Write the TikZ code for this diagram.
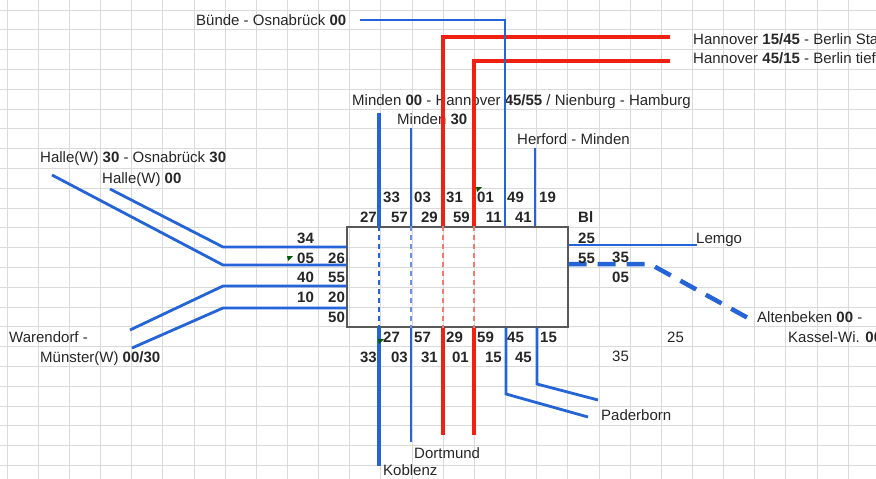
\documentclass[tikz,border=0pt]{standalone}
\usepackage{fontspec}
\setmainfont{Liberation Sans}
\usetikzlibrary{positioning}

\definecolor{trackblue}{RGB}{36,100,214}
\definecolor{trackred}{RGB}{240,32,18}
\definecolor{gridgray}{RGB}{218,218,218}
\definecolor{inkgray}{RGB}{38,38,38}

\begin{document}
\begin{tikzpicture}[
  x=1pt,y=-1pt,
  font=\fontsize{15}{17}\selectfont,
  txt/.style ={inner sep=0pt,text height=10.7pt,text depth=0pt,text=inkgray,anchor=west},
  num/.style ={txt,font=\fontsize{15}{17}\selectfont\bfseries},
  numr/.style={num,anchor=east},
  bluethick/.style={draw=trackblue,line width=4.5pt},
  bluemid/.style  ={draw=trackblue,line width=2.8pt},
  bluethin/.style ={draw=trackblue,line width=2pt},
  redthick/.style ={draw=trackred,line width=4.8pt},
  inbox/.style={line width=1.2pt,dash pattern=on 5pt off 4pt},
  station/.style={draw=gray!70!black,line width=1.4pt,minimum width=221pt,
                  minimum height=100pt,inner sep=0pt},
  notemark/.style={fill=green!35!black},
]
\useasboundingbox (0,0) rectangle (876,479);
\clip (0,0) rectangle (876,479);

%% =====================================================
%%  Grid
%% =====================================================
\foreach \i in {0,...,27}
  \draw[gridgray,line width=0.7pt] ({7+31.15*\i},0) -- ({7+31.15*\i},479);
\foreach \j in {0,...,23}
  \draw[gridgray,line width=0.7pt] (0,{10+19.8*\j}) -- (876,{10+19.8*\j});

%% =====================================================
%%  Station box
%% =====================================================
\node[station] (bl) at (457.5,277) {};

%% =====================================================
%%  Destination labels
%% =====================================================
\node[txt] (buende)  at (196,20)  {Bünde - Osnabrück \textbf{00}};
\node[txt] (hann1)   at (693,39)  {Hannover \textbf{15/45} - Berlin Sta};
\node[txt] (hann2)   at (693,58)  {Hannover \textbf{45/15} - Berlin tief};
\node[txt] (minden)  at (352,100) {Minden \textbf{00} - Hannover \textbf{45/55} / Nienburg - Hamburg};
\node[txt] (minden30) at (397,119) {Minden \textbf{30}};
\node[txt] (herford) at (517,139) {Herford - Minden};
\node[txt] (halle30) at (40,157)  {Halle(W) \textbf{30} - Osnabrück \textbf{30}};
\node[txt] (halle00) at (102,178) {Halle(W) \textbf{00}};
\node[txt] (waren)   at (9,337)   {Warendorf -};
\node[txt] (muenst)  at (40,357)  {Münster(W) \textbf{00/30}};
\node[txt] (dortm)   at (414,453) {Dortmund};
\node[txt] (koblenz) at (383,470) {Koblenz};
\node[txt] (paderb)  at (601,415) {Paderborn};
\node[txt] (lemgo)   at (696,238) {Lemgo};
\node[txt] (altenb)  at (757,317) {Altenbeken \textbf{00} -};
\node[txt] (kassel)  at (788,337) {Kassel-Wi. \textbf{00}};

%% =====================================================
%%  West approaches
%% =====================================================
\coordinate (h30end) at (52,175);
\coordinate (h00end) at (110,189);
\coordinate (war1end) at (130,330);
\coordinate (war2end) at (132,348);

\draw[bluemid] (h00end)  -- (223,247) -- (bl.west |- 0,247);
\draw[bluemid] (h30end)  -- (223,265) -- (bl.west |- 0,265);
\draw[bluemid] (war1end) -- (223,286) -- (bl.west |- 0,286);
\draw[bluemid] (war2end) -- (223,308) -- (bl.west |- 0,308);

%% =====================================================
%%  North / south tracks
%% =====================================================
% Minden 00 -- Koblenz
\coordinate (kobN) at (379,113);
\coordinate (kobS) at (379,466);
\draw[bluethick] (kobN) -- (kobN |- bl.north);
\draw[trackblue,inbox] (kobN |- bl.north) -- (kobN |- bl.south);
\draw[bluethick] (kobN |- bl.south) -- (kobS);

% Minden 30 -- Dortmund
\coordinate (dorN) at (411,128);
\coordinate (dorS) at (411,442);
\draw[bluemid] (dorN) -- (dorN |- bl.north);
\draw[trackblue!70,inbox] (dorN |- bl.north) -- (dorN |- bl.south);
\draw[bluemid] (dorN |- bl.south) -- (dorS);

% Hannover -- Berlin (two red lines)
\coordinate (hb1E) at (670,37);
\coordinate (hb1S) at (443,435);
\coordinate (hb2E) at (670,61);
\coordinate (hb2S) at (474,435);
\draw[redthick] (hb1E) -- (hb1S |- hb1E) -- (hb1S |- bl.north);
\draw[trackred!60,inbox] (hb1S |- bl.north) -- (hb1S |- bl.south);
\draw[redthick] (hb1S |- bl.south) -- (hb1S);
\draw[redthick] (hb2E) -- (hb2S |- hb2E) -- (hb2S |- bl.north);
\draw[trackred!60,inbox] (hb2S |- bl.north) -- (hb2S |- bl.south);
\draw[redthick] (hb2S |- bl.south) -- (hb2S);

% Buende -- Osnabrueck
\coordinate (bueW) at (360,20);
\draw[bluethin] (bueW) -- (505,20) -- (505,0 |- bl.north);

% Herford -- Minden
\coordinate (herN) at (535,148);
\draw[bluemid] (herN) -- (herN |- bl.north);

% towards Paderborn
\coordinate (pad1) at (588,417);
\coordinate (pad2) at (598,400);
\draw[bluemid] (506,0 |- bl.south) -- (506,394) -- (pad1);
\draw[bluemid] (537,0 |- bl.south) -- (537,384) -- (pad2);

%% =====================================================
%%  East approaches
%% =====================================================
\coordinate (lemE) at (697,245);
\coordinate (altE) at (748,318);
\draw[bluethin] (bl.east |- lemE) -- (lemE);
\draw[bluethick,dash pattern=on 18pt off 11pt] (bl.east |- 0,264) -- (650,264) -- (altE);

%% =====================================================
%%  Time figures
%% =====================================================
\foreach \n/\x in {33/383,03/414,31/446,01/477,49/507,19/539}
  \node[num] (tn-\x) at (\x,197) {\n};
\foreach \n/\x in {27/377,57/408,29/438,59/470,11/502,41/532}
  \node[numr] (tm-\x) at (\x,217) {\n};
\foreach \n/\x in {27/383,57/414,29/446,59/477,45/507,15/540}
  \node[num] (bn-\x) at (\x,337) {\n};
\foreach \n/\x in {33/377,03/408,31/438,01/469,15/502,45/532}
  \node[numr] (bm-\x) at (\x,357) {\n};

\node[num] (w34) at (297,238) {34};
\node[num] (w05) at (297,258) {05};
\node[num] (w26) at (328,258) {26};
\node[num] (w40) at (297,277) {40};
\node[num] (w55) at (328,277) {55};
\node[num] (w10) at (297,297) {10};
\node[num] (w20) at (328,297) {20};
\node[num] (w50) at (328,317) {50};

\node[num] (blname) at (578,217) {Bl};
\node[num] (e25) at (578,238) {25};
\node[num] (e55) at (578,258) {55};
\node[num] (e35) at (612,257) {35};
\node[num] (e05) at (612,277) {05};
\node[txt] (f25) at (667,337) {25};
\node[txt] (f35) at (612,356) {35};

% comment markers
\fill[notemark] (287,256) -- (293,256) -- (288,261) -- cycle;
\fill[notemark] (476,187) -- (482,187) -- (477,192) -- cycle;
\fill[notemark] (378,339) -- (384,339) -- (379,344) -- cycle;

\end{tikzpicture}
\end{document}
